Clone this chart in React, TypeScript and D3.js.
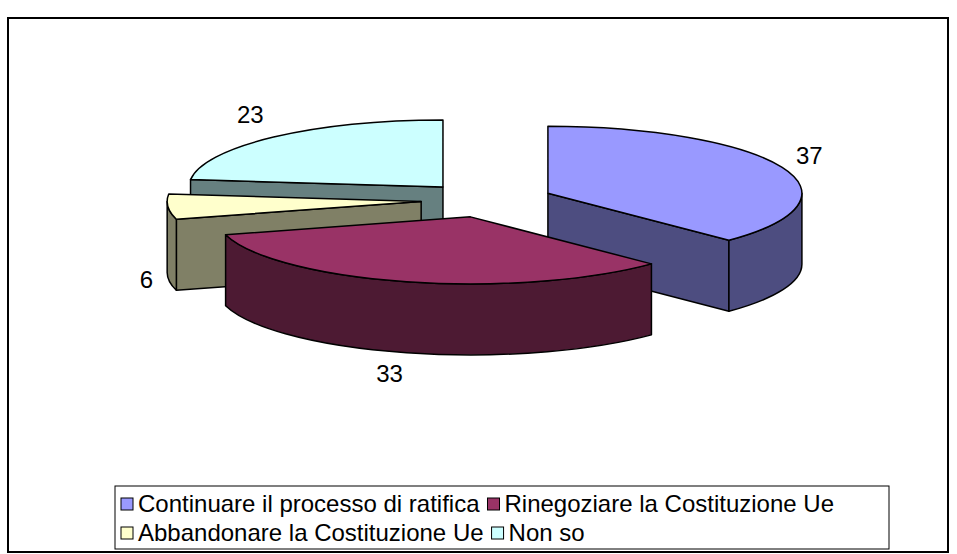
import React from "react";
import * as d3 from "d3";

// survey answers (percent)
const categories = [
  "Continuare il processo di ratifica",
  "Rinegoziare la Costituzione Ue",
  "Abbandonare la Costituzione Ue",
  "Non so",
];
const values = [37, 33, 6, 23];
const topColors = ["#9999FF", "#993366", "#FFFFCC", "#CCFFFF"];
const sideColors = ["#4D4D80", "#4D1A33", "#808066", "#668080"];

const W = 957;
const H = 554;
const FONT = "Arial, 'Liberation Sans', sans-serif";

// 3d pie geometry
const cx = 487;
const cy = 200;
const rx = 254;
const ry = 67;
const depth = 71;
const explode = 0.26;

type Pt = [number, number];

const onEllipse = (o: Pt, a: number, dy = 0): Pt => [
  o[0] + rx * Math.sin(a),
  o[1] - ry * Math.cos(a) + dy,
];

const arcTo = (p: Pt, sweep: number, large: number) =>
  `A${rx},${ry} 0 ${large} ${sweep} ${p[0]},${p[1]}`;

export default function App() {
  const pie = d3.pie<number>().sort(null)(values);

  const slices = pie.map((d, i) => {
    const mid = (d.startAngle + d.endAngle) / 2;
    const apex: Pt = [
      cx + explode * rx * Math.sin(mid),
      cy - explode * ry * Math.cos(mid),
    ];
    return { d, i, mid, apex };
  });

  // back to front
  const ordered = [...slices].sort((a, b) => a.apex[1] - b.apex[1]);

  const wall = (apex: Pt, a: number) => {
    const p = onEllipse(apex, a);
    const q = onEllipse(apex, a, depth);
    return `M${apex[0]},${apex[1]}L${p[0]},${p[1]}L${q[0]},${q[1]}L${apex[0]},${apex[1] + depth}Z`;
  };

  // a radial wall is seen only when its outward normal points to the viewer
  const facing = (normal: number) => Math.cos(normal) < -1e-6;

  const top = (apex: Pt, a0: number, a1: number) => {
    const p0 = onEllipse(apex, a0);
    const p1 = onEllipse(apex, a1);
    const large = a1 - a0 > Math.PI ? 1 : 0;
    return `M${apex[0]},${apex[1]}L${p0[0]},${p0[1]}${arcTo(p1, 1, large)}Z`;
  };

  const side = (apex: Pt, s: number, e: number) => {
    const a0 = Math.max(s, Math.PI / 2);
    const a1 = Math.min(e, (3 * Math.PI) / 2);
    if (a1 <= a0) return null;
    const p0 = onEllipse(apex, a0);
    const p1 = onEllipse(apex, a1);
    const q1 = onEllipse(apex, a1, depth);
    const q0 = onEllipse(apex, a0, depth);
    return `M${p0[0]},${p0[1]}${arcTo(p1, 1, 0)}L${q1[0]},${q1[1]}${arcTo(q0, 0, 0)}Z`;
  };

  // legend flow layout
  const legendX = 115;
  const legendY = 486;
  const legendW = 774;
  const legendH = 63;
  const fontSize = 24;
  const rows = [
    [0, 1],
    [2, 3],
  ];
  const measure = (t: string) => {
    const ctx = document.createElement("canvas").getContext("2d");
    if (!ctx) return t.length * 12;
    ctx.font = `${fontSize}px Arial, 'Liberation Sans', sans-serif`;
    return ctx.measureText(t).width;
  };

  return (
    <svg
      width={W}
      height={H}
      style={{ position: "absolute", left: 0, top: 0, background: "#fff" }}
      fontFamily={FONT}
    >
      <rect x={8} y={18} width={940} height={534} fill="#fff" stroke="#000" strokeWidth={2} />

      <g stroke="#000" strokeWidth={1.5} strokeLinejoin="round">
        {ordered.map(({ d, i, apex }) => {
          const sd = side(apex, d.startAngle, d.endAngle);
          return (
            <g key={i}>
              {facing(d.startAngle - Math.PI / 2) && (
                <path d={wall(apex, d.startAngle)} fill={sideColors[i]} />
              )}
              {facing(d.endAngle + Math.PI / 2) && (
                <path d={wall(apex, d.endAngle)} fill={sideColors[i]} />
              )}
              {sd && <path d={sd} fill={sideColors[i]} />}
              <path d={top(apex, d.startAngle, d.endAngle)} fill={topColors[i]} />
            </g>
          );
        })}
      </g>

      {slices.map(({ d, i, mid, apex }) => {
        const s = Math.sin(mid);
        const c = Math.cos(mid);
        const front = c < 0;
        const x = apex[0] + (rx + 15) * s;
        const y = apex[1] - (ry + (front ? 22 : 30)) * c + (front ? depth : 0);
        const anchor = Math.abs(s) < 0.1 ? "middle" : s > 0 ? "start" : "end";
        return (
          <text key={i} x={x} y={y} dy="0.35em" textAnchor={anchor} fontSize={fontSize} fill="#000">
            {d.data}
          </text>
        );
      })}

      <rect x={legendX} y={legendY} width={legendW} height={legendH} fill="#fff" stroke="#000" strokeWidth={1} />
      {rows.map((row, r) => {
        let x = legendX + 6;
        const y = legendY + 18 + r * 29;
        return row.map((i) => {
          const sx = x;
          const w = measure(categories[i]);
          x += 18 + w + 7;
          return (
            <g key={i}>
              <rect x={sx} y={y - 6} width={12} height={12} fill={topColors[i]} stroke="#000" strokeWidth={1} />
              <text x={sx + 17} y={y} dy="0.35em" fontSize={fontSize} fill="#000">
                {categories[i]}
              </text>
            </g>
          );
        });
      })}
    </svg>
  );
}
